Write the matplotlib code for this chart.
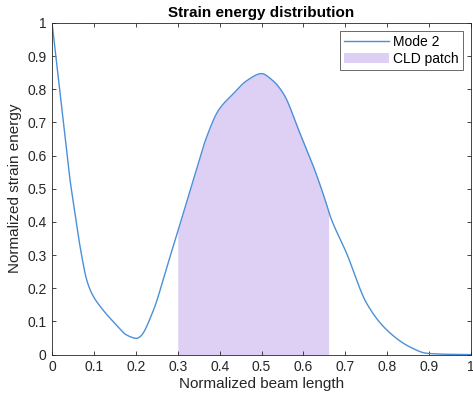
import numpy as np
import matplotlib.pyplot as plt

# normalized beam length vs. normalized strain energy, mode 2
beam_x = [0.0, 0.023, 0.043, 0.055, 0.067, 0.083, 0.095, 0.122, 0.154, 0.178,
          0.202, 0.21, 0.242, 0.274, 0.301, 0.337, 0.369, 0.397, 0.433, 0.465,
          0.5, 0.525, 0.552, 0.592, 0.624, 0.652, 0.663, 0.703, 0.751, 0.799,
          0.854, 0.894, 0.94, 1.0]
strain_energy = [1.0, 0.745, 0.526, 0.425, 0.325, 0.224, 0.184, 0.134, 0.089, 0.059,
                 0.049, 0.054, 0.134, 0.264, 0.375, 0.526, 0.656, 0.736, 0.787, 0.826,
                 0.847, 0.828, 0.787, 0.666, 0.566, 0.465, 0.42, 0.305, 0.154, 0.074,
                 0.023, 0.004, 0.001, 0.0]

patch_start = 0.3
patch_end = 0.66

line_color = "#4a90d9"
patch_color = "#ded0f4"


def pchip(xk, yk, xs):
    # monotone piecewise cubic (Fritsch-Carlson)
    xk = np.asarray(xk, float)
    yk = np.asarray(yk, float)
    h = np.diff(xk)
    d = np.diff(yk) / h
    m = np.zeros_like(yk)
    for i in range(1, len(xk) - 1):
        if d[i - 1] * d[i] > 0:
            w1 = 2 * h[i] + h[i - 1]
            w2 = h[i] + 2 * h[i - 1]
            m[i] = (w1 + w2) / (w1 / d[i - 1] + w2 / d[i])
    m[0] = d[0]
    m[-1] = d[-1]
    idx = np.clip(np.searchsorted(xk, xs) - 1, 0, len(h) - 1)
    t = (xs - xk[idx]) / h[idx]
    h00 = 2 * t**3 - 3 * t**2 + 1
    h10 = t**3 - 2 * t**2 + t
    h01 = -2 * t**3 + 3 * t**2
    h11 = t**3 - t**2
    return (h00 * yk[idx] + h10 * h[idx] * m[idx]
            + h01 * yk[idx + 1] + h11 * h[idx] * m[idx + 1])


x = np.linspace(0, 1, 1001)
y = pchip(beam_x, strain_energy, x)

plt.rcParams["font.family"] = ["Liberation Sans", "DejaVu Sans"]

fig = plt.figure(figsize=(4.73, 3.94), dpi=100)
ax = fig.add_axes([0.110, 0.100, 0.886, 0.842])

mask = (x >= patch_start) & (x <= patch_end)
ax.fill_between(x[mask], 0, y[mask], color=patch_color, linewidth=0, label="CLD patch")
ax.plot(x, y, color=line_color, linewidth=1.0, label="Mode 2")

ticks = np.round(np.arange(0, 1.01, 0.1), 1)
tick_labels = ["0" if v == 0 else ("1" if v == 1 else f"{v:.1f}") for v in ticks]
ax.set_xlim(0, 1)
ax.set_ylim(0, 1)
ax.set_xticks(ticks)
ax.set_yticks(ticks)
ax.set_xticklabels(tick_labels)
ax.set_yticklabels(tick_labels)
ax.tick_params(direction="in", length=3, width=0.6, colors="#262626", labelsize=10,
               top=True, right=True, pad=4)
for s in ax.spines.values():
    s.set_color("#262626")
    s.set_linewidth(0.6)

ax.set_xlabel("Normalized beam length", fontsize=11, color="#262626", labelpad=2)
ax.set_ylabel("Normalized strain energy", fontsize=11, color="#262626", labelpad=4)
ax.set_title("Strain energy distribution", fontsize=11, fontweight="bold", pad=4)

handles, labels = ax.get_legend_handles_labels()
leg = ax.legend(handles[::-1], labels[::-1], loc="upper right", fontsize=10,
                frameon=True, fancybox=False, edgecolor="#262626",
                borderpad=0.3, handlelength=3.2, handletextpad=0.3,
                labelspacing=0.2, borderaxespad=0.6)
leg.get_frame().set_linewidth(0.6)

fig.savefig("out.png", dpi=100)
